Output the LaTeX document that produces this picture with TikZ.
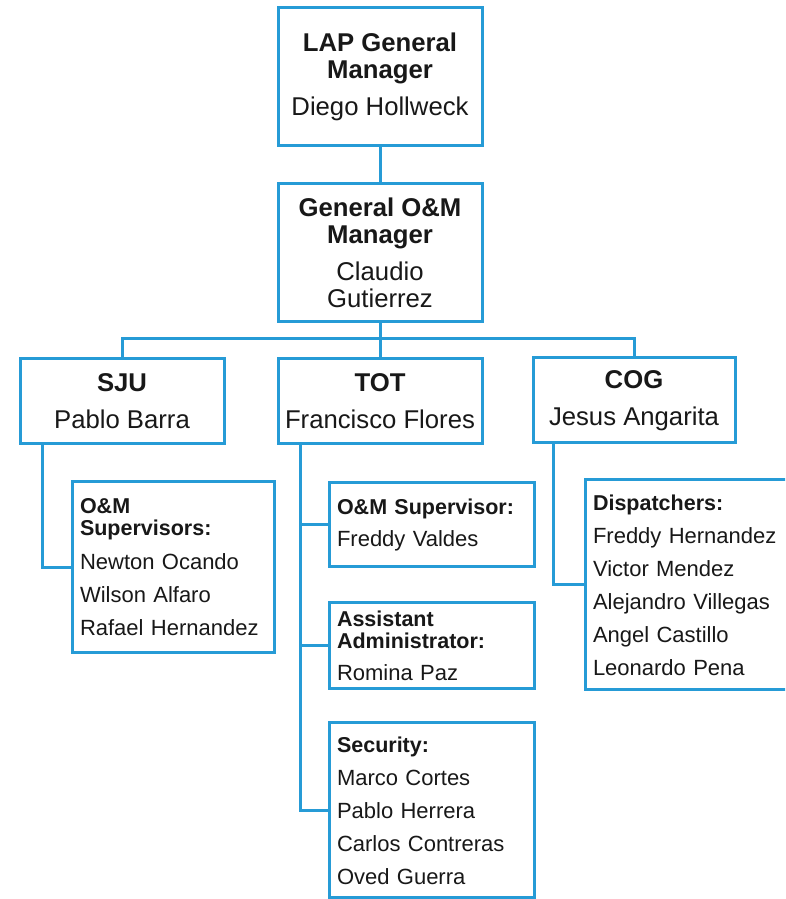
\documentclass[tikz,border=0pt]{standalone}
\usepackage{fontspec}
\setmainfont{Liberation Sans}
\definecolor{orgblue}{RGB}{38,155,214}
\definecolor{orgtext}{RGB}{24,24,24}
\newcommand{\staffhead}[1]{{\bfseries\fontsize{21.5}{33}\selectfont #1}}
\begin{document}
\begin{tikzpicture}[scale=1.000000,x=1pt,y=1pt,
  unitbox/.style={draw=orgblue,line width=3.000000pt,fill=white,text=orgtext,
    align=center,inner sep=0pt,minimum width=204.000000pt,
    font=\fontsize{25.7}{27}\selectfont},
  staffbox/.style={draw=orgblue,line width=3.000000pt,fill=white,text=orgtext,
    align=left,inner xsep=8.000000pt,inner ysep=0pt,text width=188.000000pt,
    font=\fontsize{22}{33}\selectfont},
  orgline/.style={draw=orgblue,line width=3.000000pt}]
\useasboundingbox (0.000000, 0.000000) rectangle (785.000000, 899.000000);
\clip (0.000000, 0.000000) rectangle (785.000000, 899.000000);
\fill[white] (0.000000, 0.000000) rectangle (785.000000, 899.000000);
% Drawing boxes
% Box 1: LAP General Manager
\node[unitbox,minimum height=138.000000pt] (lapgm) at (380.000000, 822.000000)
  {\textbf{LAP General}\\\textbf{Manager}\\[10pt]Diego Hollweck};
% Box 2: General O&M Manager
\node[unitbox,minimum height=138.000000pt] (omgm) at (380.000000, 646.000000)
  {\textbf{General O\&M}\\\textbf{Manager}\\[10pt]Claudio\\Gutierrez};
% Box 3-5: sites
\node[unitbox,minimum height=85.000000pt] (sju) at (122.000000, 498.000000)
  {\textbf{SJU}\\[10pt]Pablo Barra};
\node[unitbox,minimum height=85.000000pt] (tot) at (380.000000, 498.000000)
  {\textbf{TOT}\\[10pt]Francisco Flores};
\node[unitbox,minimum height=85.000000pt,minimum width=202.000000pt] (cog) at (634.000000, 498.500000)
  {\textbf{COG}\\[10pt]Jesus Angarita};
% Box 6: SJU staff
\node[staffbox,text width=186.000000pt,minimum height=171.000000pt] (sjusup) at (173.000000, 331.500000)
  {\staffhead{O\&M}\\[-11pt]\staffhead{Supervisors:}\\[1pt]Newton Ocando\\Wilson Alfaro\\Rafael Hernandez};
% Box 7-9: TOT staff
\node[staffbox,text width=189.000000pt,minimum height=84.000000pt] (totsup) at (431.500000, 374.000000)
  {\staffhead{O\&M Supervisor:}\\[-1pt]Freddy Valdes};
\node[staffbox,text width=189.000000pt,minimum height=86.000000pt] (totadm) at (431.500000, 253.000000)
  {\staffhead{Assistant}\\[-11pt]\staffhead{Administrator:}\\[-1pt]Romina Paz};
\node[staffbox,text width=189.000000pt,minimum height=175.000000pt] (totsec) at (431.500000, 88.500000)
  {\staffhead{Security:}\\Marco Cortes\\Pablo Herrera\\Carlos Contreras\\Oved Guerra};
% Box 10: COG staff
\node[staffbox,text width=189.000000pt,minimum height=210.000000pt] (cogdisp) at (687.500000, 314.000000)
  {\staffhead{Dispatchers:}\\Freddy Hernandez\\Victor Mendez\\Alejandro Villegas\\Angel Castillo\\Leonardo Pena};
% Done with boxes; drawing connectors
\coordinate (bus) at (380.000000, 560.000000);
\draw[orgline] (lapgm.south) -- (omgm.north);
\draw[orgline] (omgm.south) -- (bus);
\draw[orgline] (sju.north) |- (bus) -| (cog.north);
\draw[orgline] (bus) -- (tot.north);
\draw[orgline] ([xshift=-80.000000pt]sju.south) |- (sjusup.west);
\draw[orgline] ([xshift=-80.000000pt]tot.south) |- (totsec.west);
\draw[orgline] ([xshift=-80.000000pt]tot.south) |- (totsup.west);
\draw[orgline] ([xshift=-80.000000pt]tot.south) |- (totadm.west);
\draw[orgline] ([xshift=-81.000000pt]cog.south) |- (cogdisp.west);
% Done with connectors
\end{tikzpicture}
\end{document}
